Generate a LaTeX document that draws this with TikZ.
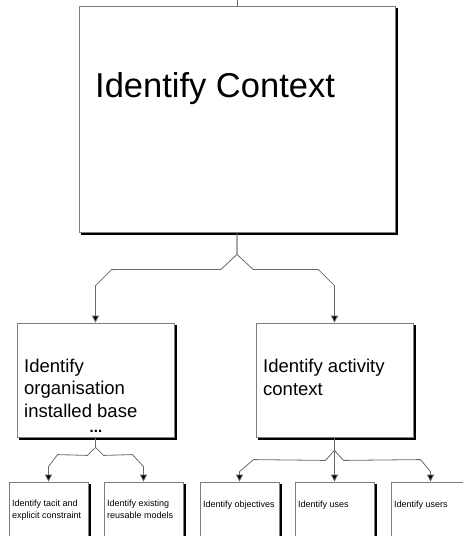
\documentclass[tikz,border=0pt]{standalone}
\usepackage{fontspec}
\setmainfont{Liberation Sans}
\usetikzlibrary{arrows.meta, shapes.misc, calc}
\definecolor{EdgeGrey}{RGB}{125,125,125}
\definecolor{LinkGrey}{RGB}{105,105,105}

\begin{document}
\begin{tikzpicture}[x=1pt, y=-1pt,
    task/.style={chamfered rectangle, chamfered rectangle xsep=4pt, chamfered rectangle ysep=4pt,
        draw=EdgeGrey, line width=0.8pt, fill=white, inner sep=0pt,
        preaction={draw=black, fill=black, line width=1pt, transform canvas={xshift=2.5pt, yshift=-2.5pt}}},
    link/.style={LinkGrey, line width=0.8pt, -{Triangle[length=7pt, width=7pt, fill=black]}},
    lbl/.style={anchor=base west, inner sep=0pt, align=left}]
    \useasboundingbox (0,0) rectangle (463,536);
    \clip (0,0) rectangle (463,536);

    % boxes
    \node[task, minimum width=316pt, minimum height=226pt] (ctx) at (237,119) {};
    \node[task, minimum width=157pt, minimum height=114pt] (org) at (95.5,380) {};
    \node[task, minimum width=157pt, minimum height=114pt] (act) at (334.5,380) {};
    \node[task, minimum width=79pt, minimum height=118pt] (tac) at (48.5,541) {};
    \node[task, minimum width=79pt, minimum height=118pt] (reu) at (143.5,541) {};
    \node[task, minimum width=79pt, minimum height=118pt] (obj) at (239.5,541) {};
    \node[task, minimum width=79pt, minimum height=118pt] (use) at (334.5,541) {};
    \node[task, minimum width=79pt, minimum height=118pt] (usr) at (430.5,541) {};

    % labels (base = last line)
    \node[lbl, font=\fontsize{34.5}{40}\selectfont] (ctxtxt) at (95,97) {Identify Context};
    \node[lbl, font=\fontsize{18.5}{22.5}\selectfont] (orgtxt) at (24,417) {Identify\\organisation\\installed base};
    \node[font=\fontsize{15}{15}\selectfont\bfseries, anchor=base, inner sep=0pt] (orgmore) at (96,432) {...};
    \node[lbl, font=\fontsize{18.5}{22.5}\selectfont] (acttxt) at (263,395) {Identify activity\\context};
    \node[lbl, font=\fontsize{9}{11.5}\selectfont] (tactxt) at (12,518) {Identify tacit and\\explicit constraint};
    \node[lbl, font=\fontsize{9}{11.5}\selectfont] (reutxt) at (107,518) {Identify existing\\reusable models};
    \node[lbl, font=\fontsize{9}{11.5}\selectfont] (objtxt) at (203,507) {Identify objectives};
    \node[lbl, font=\fontsize{9}{11.5}\selectfont] (usetxt) at (298,507) {Identify uses};
    \node[lbl, font=\fontsize{9}{11.5}\selectfont] (usrtxt) at (394,507) {Identify users};

    % links
    \coordinate (feed) at ($(ctx.north)+(0,-6)$);
    \draw[LinkGrey, line width=0.8pt] (feed) -- (ctx.north);
    \draw[link] (ctx.south) -- ++(0,22) -- ++(-16,15) -- ($(org.north)+(16,-53)$) -- ($(org.north)+(0,-37)$) -- (org.north);
    \draw[link] (ctx.south) -- ++(0,22) -- ++(16,15) -- ($(act.north)+(-16,-53)$) -- ($(act.north)+(0,-37)$) -- (act.north);
    \draw[link] (org.south) -- ++(0,10) -- ++(-8,8) -- ($(tac.north)+(9,-27)$) -- ($(tac.north)+(0,-15)$) -- (tac.north);
    \draw[link] (org.south) -- ++(0,10) -- ++(8,8) -- ($(reu.north)+(-11,-27)$) -- ($(reu.north)+(0,-15)$) -- (reu.north);
    \draw[link] (act.south) -- ++(0,13) -- ++(-9,10) -- ($(obj.north)+(14,-22)$) -- ($(obj.north)+(0,-10)$) -- (obj.north);
    \draw[link] (act.south) -- (use.north);
    \draw[link] (act.south) -- ++(0,13) -- ++(9,10) -- ($(usr.north)+(-10,-22)$) -- ($(usr.north)+(0,-10)$) -- (usr.north);
\end{tikzpicture}
\end{document}
